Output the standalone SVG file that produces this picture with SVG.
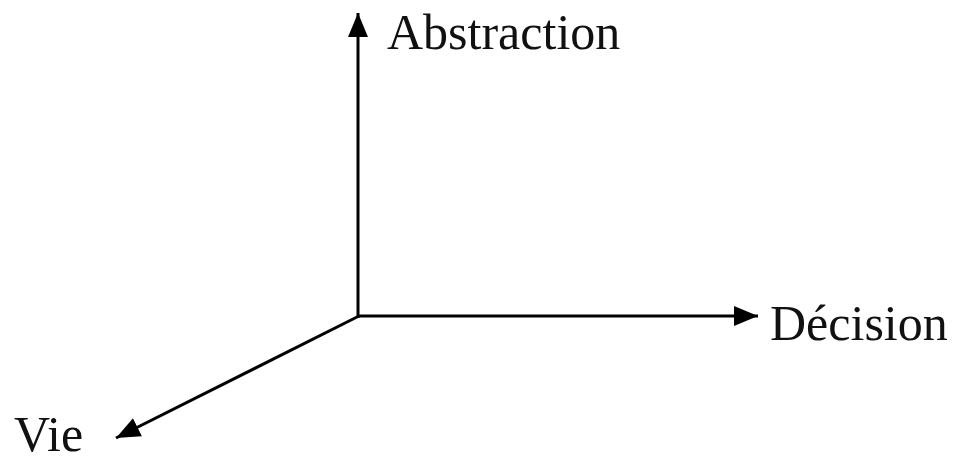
<svg xmlns="http://www.w3.org/2000/svg" width="968" height="462" viewBox="0 0 968 462">
<style>
.axis{stroke:#000;stroke-width:3;fill:none}
.lbl{font-family:"Liberation Serif","Times New Roman",serif;font-size:50px;fill:#111}
</style>
<defs>
<marker id="ah" markerUnits="userSpaceOnUse" markerWidth="26" markerHeight="22" refX="24" refY="11" orient="auto">
<path d="M0,1 L24,11 L0,21 Z" fill="#000"/>
</marker>
</defs>
<rect width="968" height="462" fill="#fff"/>
<g id="connectors">
<line class="axis" x1="358" y1="318" x2="358" y2="13" marker-end="url(#ah)"/>
<line class="axis" x1="357" y1="316" x2="758" y2="316" marker-end="url(#ah)"/>
<line class="axis" x1="359" y1="316" x2="116" y2="438" marker-end="url(#ah)"/>
</g>
<g id="abstraction"><text class="lbl" x="387" y="49">Abstraction</text></g>
<g id="decision"><text class="lbl" x="770" y="340">Décision</text></g>
<g id="vie"><text class="lbl" x="14" y="451">Vie</text></g>
</svg>
